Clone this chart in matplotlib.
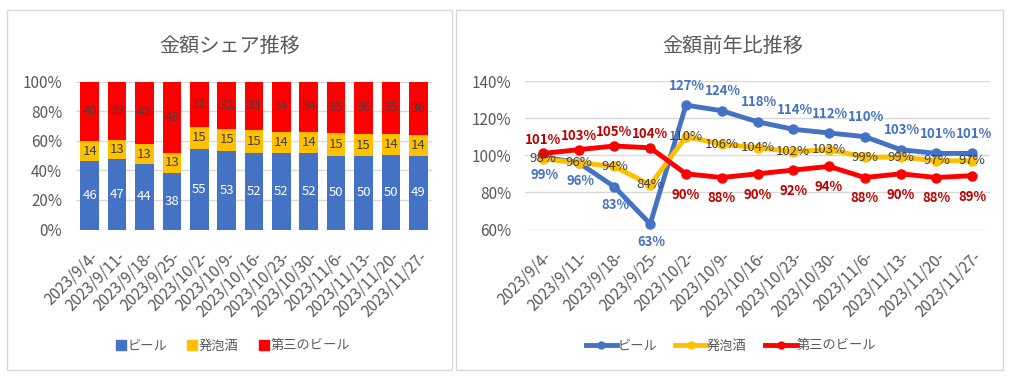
import matplotlib
matplotlib.use("Agg")
import matplotlib.pyplot as plt
from matplotlib.patches import Rectangle
from matplotlib.lines import Line2D
import numpy as np

plt.rcParams['font.family'] = ['Noto Sans CJK JP', 'DejaVu Sans']

weeks = ['2023/9/4-', '2023/9/11-', '2023/9/18-', '2023/9/25-', '2023/10/2-',
         '2023/10/9-', '2023/10/16-', '2023/10/23-', '2023/10/30-', '2023/11/6-',
         '2023/11/13-', '2023/11/20-', '2023/11/27-']
series_names = ['ビール', '発泡酒', '第三のビール']

# share of sales (%)
share_beer = [46, 47, 44, 38, 55, 53, 52, 52, 52, 50, 50, 50, 49]
share_happo = [14, 13, 13, 13, 15, 15, 15, 14, 14, 15, 15, 14, 14]
share_third = [40, 39, 42, 48, 31, 32, 33, 34, 34, 35, 36, 35, 36]

# year-on-year (%)
yoy_beer = [99, 96, 83, 63, 127, 124, 118, 114, 112, 110, 103, 101, 101]
yoy_happo = [98, 96, 94, 84, 110, 106, 104, 102, 103, 99, 99, 97, 97]
yoy_third = [101, 103, 105, 104, 90, 88, 90, 92, 94, 88, 90, 88, 89]

BLUE = '#4472C4'
YELLOW = '#FFC000'
RED = '#FF0000'
GRAY = '#595959'
GRID = '#D9D9D9'

W, H = 1010, 376
fig = plt.figure(figsize=(W / 100, H / 100), dpi=100)


def px_rect(x0, y0, x1, y1):
    return [x0 / W, 1 - y1 / H, (x1 - x0) / W, (y1 - y0) / H]


# panel borders
for (x0, y0, x1, y1) in [(7, 10, 452, 370), (456, 10, 1003, 370)]:
    fig.patches.append(Rectangle((x0 / W, 1 - y1 / H), (x1 - x0) / W, (y1 - y0) / H,
                                 transform=fig.transFigure, fill=False,
                                 edgecolor=GRID, linewidth=1.0))


def style_axes(ax):
    for s in ax.spines.values():
        s.set_visible(False)
    ax.grid(axis='y', color=GRID, linewidth=1.0)
    ax.set_axisbelow(True)
    ax.tick_params(axis='both', length=0, colors=GRAY)
    ax.tick_params(axis='y', pad=10, labelsize=11)
    ax.set_xticks(range(len(weeks)))
    ax.set_xticklabels(weeks, rotation=45, ha='right', va='top',
                       rotation_mode='anchor', color=GRAY, fontsize=11)
    ax.tick_params(axis='x', pad=13)
    ax.set_xlim(-0.5, len(weeks) - 0.5)


# ---- left: stacked 100% bars ----
ax1 = fig.add_axes(px_rect(76, 81.5, 432, 229.5))
style_axes(ax1)
x = np.arange(len(weeks))
tot = np.array(share_beer) + np.array(share_happo) + np.array(share_third)
b = np.array(share_beer) / tot * 100
h = np.array(share_happo) / tot * 100
t = np.array(share_third) / tot * 100
c1 = ax1.bar(x, b, width=0.68, color=BLUE)
c2 = ax1.bar(x, h, width=0.68, bottom=b, color=YELLOW)
c3 = ax1.bar(x, t, width=0.68, bottom=b + h, color=RED)
ax1.bar_label(c1, labels=[str(v) for v in share_beer], label_type='center',
              color='white', fontsize=9.5)
ax1.bar_label(c2, labels=[str(v) for v in share_happo], label_type='center',
              color='#404040', fontsize=9.5)
ax1.bar_label(c3, labels=[str(v) for v in share_third], label_type='center',
              color='#404040', fontsize=9.5)
ax1.set_ylim(0, 100)
ax1.set_yticks(range(0, 101, 20))
ax1.set_yticklabels([f'{v}%' for v in range(0, 101, 20)])
fig.text(230 / W, 1 - 46 / H, '金額シェア推移', ha='center', va='center',
         fontsize=14.5, color=GRAY)
leg1 = [Line2D([], [], marker='s', linestyle='none', markersize=7, color=c)
        for c in (BLUE, YELLOW, RED)]
fig.legend(leg1, series_names, loc='center', bbox_to_anchor=(232 / W, 1 - 346 / H),
           ncol=3, frameon=False, fontsize=9.5, labelcolor=GRAY,
           handletextpad=0.0, columnspacing=1.4, handlelength=1.0)

# ---- right: year-on-year lines ----
ax2 = fig.add_axes(px_rect(525, 81, 990, 229.5))
style_axes(ax2)
ax2.set_ylim(60, 140)
ax2.set_yticks(range(60, 141, 20))
ax2.set_yticklabels([f'{v}%' for v in range(60, 141, 20)])

for vals, col in [(yoy_beer, BLUE), (yoy_happo, YELLOW), (yoy_third, RED)]:
    ax2.plot(x, vals, color=col, linewidth=3.5, marker='o', markersize=6.5,
             solid_capstyle='round')

# label placement: beer below for first four, then above; third the reverse
for i, v in enumerate(yoy_beer):
    dy = -13 if i < 4 else 14
    ax2.annotate(f'{v}%', (i, v), xytext=(1, dy), textcoords='offset points',
                 ha='center', va='center', color=BLUE, fontweight='bold', fontsize=9.5)
for i, v in enumerate(yoy_happo):
    ax2.annotate(f'{v}%', (i, v), xytext=(0, 0), textcoords='offset points',
                 ha='center', va='center', color='#404040', fontsize=9.5)
for i, v in enumerate(yoy_third):
    dy = 10 if i < 4 else -15
    ax2.annotate(f'{v}%', (i, v), xytext=(0, dy), textcoords='offset points',
                 ha='center', va='center', color='#C00000', fontweight='bold', fontsize=9.5)

fig.text(733 / W, 1 - 46 / H, '金額前年比推移', ha='center', va='center',
         fontsize=14.5, color=GRAY)
leg2 = [Line2D([], [], marker='o', markersize=5, linewidth=3.5, color=c)
        for c in (BLUE, YELLOW, RED)]
fig.legend(leg2, series_names, loc='center', bbox_to_anchor=(731 / W, 1 - 346 / H),
           ncol=3, frameon=False, fontsize=9.5, labelcolor=GRAY,
           handletextpad=0.0, columnspacing=1.4, handlelength=2.4)

fig.savefig('out.png', dpi=100)
